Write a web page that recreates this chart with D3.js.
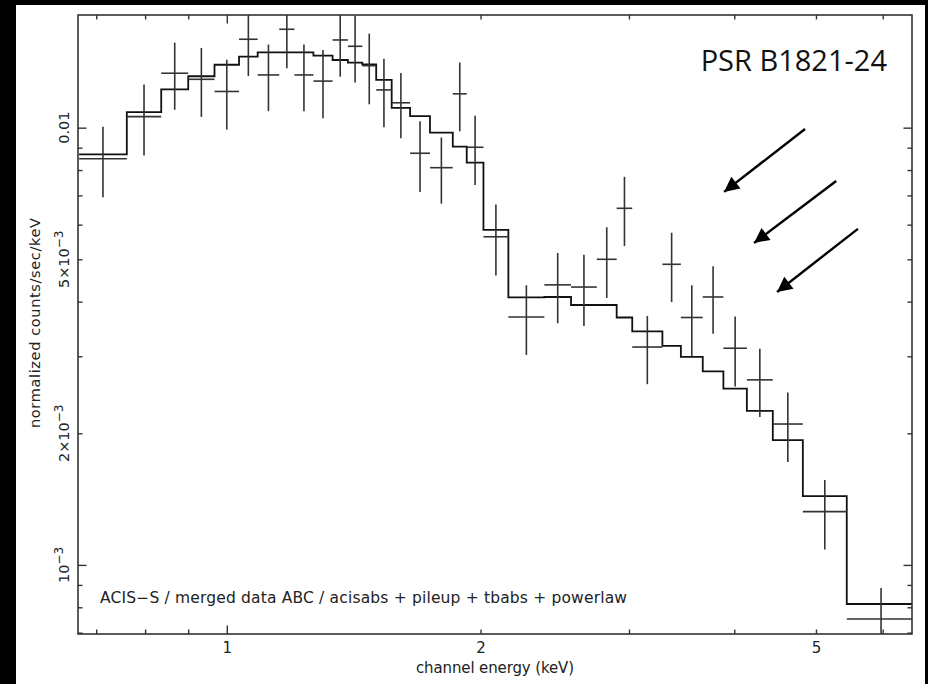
<!DOCTYPE html>
<html>
<head>
<meta charset="utf-8">
<script src="https://cdn.jsdelivr.net/npm/d3@7"></script>
<style>
  html, body { margin: 0; padding: 0; background: #000; }
  svg { display: block; }
</style>
</head>
<body>
<svg id="chart" width="928" height="684"></svg>
<script>
// Spectral bins (keV): edges shared by consecutive channels
const binEdges = [0.668, 0.761, 0.836, 0.900, 0.967, 1.034, 1.088, 1.154, 1.203, 1.267,
  1.335, 1.392, 1.448, 1.504, 1.569, 1.650, 1.742, 1.854, 1.926, 2.016,
  2.158, 2.381, 2.561, 2.748, 2.901, 3.027, 3.287, 3.457, 3.670, 3.883,
  4.140, 4.444, 4.824, 5.439, 6.56];

// Observed normalized counts/sec/keV and 1-sigma errors per bin
const counts = [0.00849, 0.01060, 0.01332, 0.01290, 0.01210, 0.01593, 0.01320, 0.01679, 0.01320, 0.01278,
  0.01587, 0.01535, 0.01386, 0.01220, 0.01140, 0.00874, 0.00810, 0.01195, 0.00902, 0.00563,
  0.00369, 0.00437, 0.00432, 0.00500, 0.00654, 0.00315, 0.00487, 0.00368, 0.00410, 0.00313,
  0.00265, 0.00210, 0.001324, 0.000752];
const countErr = [0.00156, 0.00196, 0.00233, 0.00232, 0.00220, 0.00280, 0.00229, 0.00312, 0.00230, 0.00227,
  0.00279, 0.00267, 0.00255, 0.00218, 0.00194, 0.00161, 0.00140, 0.00214, 0.00163, 0.00104,
  0.00067, 0.00080, 0.00080, 0.00092, 0.00118, 0.00056, 0.00088, 0.00068, 0.00072, 0.00057,
  0.00047, 0.00038, 0.00024, 0.000134];

// Folded model (acisabs + pileup + tbabs + powerlaw) per bin
const model = [0.00869, 0.01085, 0.01224, 0.01311, 0.01393, 0.01453, 0.01487, 0.01487, 0.01487, 0.01462,
  0.01428, 0.01408, 0.01396, 0.01286, 0.01110, 0.01063, 0.00974, 0.00905, 0.00832, 0.00584,
  0.00409, 0.00410, 0.00393, 0.00393, 0.00368, 0.00342, 0.00317, 0.00299, 0.00277, 0.00253,
  0.00225, 0.00193, 0.001436, 0.000814];

// Axis ticks
const xMajorTicks = [1];
const xMinorTicks = [0.7, 0.8, 0.9, 2, 3, 4, 5, 6];
const xTickLabels = [1, 2, 5];
const yMajorTicks = [0.001, 0.01];
const yMinorTicks = [0.0007, 0.0008, 0.0009, 0.002, 0.003, 0.004, 0.005, 0.006, 0.007, 0.008, 0.009];
const yTickValues = [0.01, 0.005, 0.002, 0.001];
const yTickBase = ["0.01", "5\u00d710", "2\u00d710", "10"];
const yTickExp = ["", "\u22123", "\u22123", "\u22123"];

// Arrows marking the excess (energy, flux) from tail to tip
const arrowTail = [[4.853, 0.00993], [5.284, 0.00755], [5.607, 0.00587]];
const arrowTip = [[3.890, 0.00713], [4.222, 0.00545], [4.496, 0.00421]];

const svg = d3.select("#chart");
const m = { left: 78, right: 912, top: 15, bottom: 634 };
const font = "'DejaVu Sans', sans-serif";
const ink = "#222";

svg.append("rect").attr("x", 16).attr("y", 5).attr("width", 909).attr("height", 679).attr("fill", "#fff");

const x = d3.scaleLog().domain([0.666, 6.50]).range([m.left, m.right]);
const y = d3.scaleLog().domain([0.000695, 0.0181]).range([m.bottom, m.top]);

const defs = svg.append("defs");
defs.append("clipPath").attr("id", "plotClip")
  .append("rect").attr("x", m.left).attr("y", m.top)
  .attr("width", m.right - m.left).attr("height", m.bottom - m.top);

const bins = counts.map((c, i) => ({
  lo: binEdges[i], hi: binEdges[i + 1],
  mid: Math.sqrt(binEdges[i] * binEdges[i + 1]),
  v: c, e: countErr[i], mod: model[i]
}));

const plot = svg.append("g").attr("clip-path", "url(#plotClip)");

// Model as a step histogram
const stepPts = [];
bins.forEach(b => { stepPts.push([b.lo, b.mod]); stepPts.push([b.hi, b.mod]); });
plot.append("path")
  .attr("d", d3.line().x(d => x(d[0])).y(d => y(d[1]))(stepPts))
  .attr("fill", "none").attr("stroke", "#111").attr("stroke-width", 1.8);

// Data crosses: bin width and 1-sigma error
const cross = plot.selectAll("g.pt").data(bins).join("g").attr("class", "pt")
  .attr("stroke", "#333").attr("stroke-width", 1.6);
cross.append("line")
  .attr("x1", d => x(d.lo)).attr("x2", d => x(d.hi))
  .attr("y1", d => y(d.v)).attr("y2", d => y(d.v));
cross.append("line")
  .attr("x1", d => x(d.mid)).attr("x2", d => x(d.mid))
  .attr("y1", d => y(d.v + d.e)).attr("y2", d => y(Math.max(d.v - d.e, 1e-5)));

// Frame
svg.append("rect").attr("x", m.left).attr("y", m.top)
  .attr("width", m.right - m.left).attr("height", m.bottom - m.top)
  .attr("fill", "none").attr("stroke", "#333").attr("stroke-width", 1.6);

function tickAxis(axisFn, scale, vals, size, transform) {
  const g = svg.append("g").attr("transform", transform)
    .call(axisFn(scale).tickValues(vals).tickSize(size).tickFormat(""));
  g.select(".domain").remove();
  g.selectAll(".tick line").attr("stroke", "#333").attr("stroke-width", 1.4);
  return g;
}
tickAxis(d3.axisBottom, x, xMinorTicks, -4.5, `translate(0,${m.bottom})`);
tickAxis(d3.axisBottom, x, xMajorTicks, -8.5, `translate(0,${m.bottom})`);
tickAxis(d3.axisTop, x, xMinorTicks, -4.5, `translate(0,${m.top})`);
tickAxis(d3.axisTop, x, xMajorTicks, -8.5, `translate(0,${m.top})`);
tickAxis(d3.axisLeft, y, yMinorTicks, -4.5, `translate(${m.left},0)`);
tickAxis(d3.axisLeft, y, yMajorTicks, -8.5, `translate(${m.left},0)`);
tickAxis(d3.axisRight, y, yMinorTicks, -4.5, `translate(${m.right},0)`);
tickAxis(d3.axisRight, y, yMajorTicks, -8.5, `translate(${m.right},0)`);

// X tick labels
const xl = svg.append("g").attr("transform", `translate(0,${m.bottom})`)
  .call(d3.axisBottom(x).tickValues(xTickLabels).tickSize(0).tickPadding(8).tickFormat(d3.format("d")));
xl.select(".domain").remove();
xl.selectAll("text").attr("font-family", font).attr("font-size", 15).attr("fill", ink);

// Y tick labels, rotated
yTickValues.forEach((v, i) => {
  const t = svg.append("text")
    .attr("transform", `translate(68.5,${y(v)}) rotate(-90)`)
    .attr("text-anchor", "middle")
    .attr("font-family", font).attr("font-size", 14.5).attr("fill", ink);
  t.append("tspan").text(yTickBase[i]);
  if (yTickExp[i]) {
    t.append("tspan").attr("dy", -6).attr("font-size", 12).text(yTickExp[i]);
  }
});

// Axis titles
svg.append("text").attr("x", (m.left + m.right) / 2).attr("y", 673)
  .attr("text-anchor", "middle").attr("font-family", font).attr("font-size", 15).attr("fill", ink)
  .attr("textLength", 158).attr("lengthAdjust", "spacing")
  .text("channel energy (keV)");
svg.append("text").attr("transform", "translate(40,323) rotate(-90)")
  .attr("text-anchor", "middle").attr("font-family", font).attr("font-size", 14.5).attr("fill", ink)
  .attr("textLength", 210).attr("lengthAdjust", "spacing")
  .text("normalized counts/sec/keV");

// Fit description
svg.append("text").attr("x", 100).attr("y", 603)
  .attr("font-family", font).attr("font-size", 15.5).attr("fill", ink)
  .attr("textLength", 527).attr("lengthAdjust", "spacing")
  .text("ACIS\u2212S / merged data ABC / acisabs + pileup + tbabs + powerlaw");

// Source name
svg.append("text").attr("x", 887).attr("y", 71).attr("text-anchor", "end")
  .attr("font-family", "'Open Sans', sans-serif").attr("font-size", 29).attr("fill", "#111")
  .text("PSR B1821-24");

// Arrows
defs.append("marker").attr("id", "head")
  .attr("viewBox", "0 0 10 10").attr("refX", 10).attr("refY", 5)
  .attr("markerWidth", 19).attr("markerHeight", 15).attr("markerUnits", "userSpaceOnUse")
  .attr("orient", "auto")
  .append("path").attr("d", "M0,0 L10,5 L0,10 z").attr("fill", "#000");
arrowTail.forEach((t, i) => {
  svg.append("line")
    .attr("x1", x(t[0])).attr("y1", y(t[1]))
    .attr("x2", x(arrowTip[i][0])).attr("y2", y(arrowTip[i][1]))
    .attr("stroke", "#000").attr("stroke-width", 2.4)
    .attr("marker-end", "url(#head)");
});
</script>
</body>
</html>
